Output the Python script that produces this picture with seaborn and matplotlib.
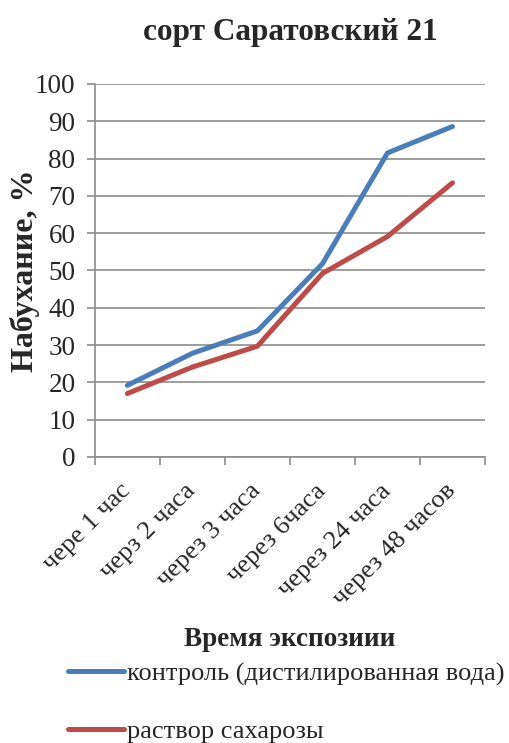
import numpy as np
import pandas as pd
import seaborn as sns
from matplotlib import pyplot as plt

# Data
categories = ['чере 1 час', 'черз 2 часа', 'через 3 часа', 'через 6часа',
              'через 24 часа', 'через 48 часов']
control = [19.2, 27.8, 33.8, 51.8, 81.5, 88.6]
sucrose = [17.0, 24.1, 29.7, 49.2, 59.1, 73.5]
series_names = ['контроль (дистилированная вода)', 'раствор сахарозы']

df = pd.DataFrame({
    'time': categories * 2,
    'value': control + sucrose,
    'series': [series_names[0]] * len(categories) + [series_names[1]] * len(categories),
})

sns.set_style('white')
plt.rcParams['font.family'] = ['Liberation Serif', 'DejaVu Serif']

fig = plt.figure(figsize=(5.1, 7.43), dpi=100)
ax = fig.add_axes([0.186, 0.385, 0.765, 0.502])

palette = {series_names[0]: '#4A7EBB', series_names[1]: '#BE4B48'}
sns.lineplot(data=df, x='time', y='value', hue='series', palette=palette,
             linewidth=3.6, sort=False, ax=ax, legend=False)

ax.set_xlim(-0.5, len(categories) - 0.5)
ax.set_ylim(0, 100)
ax.set_yticks(np.arange(0, 101, 10))
ax.yaxis.grid(True, color='#8c8c8c', linewidth=1.2)
ax.set_axisbelow(True)

# ticks at category boundaries
ax.set_xticks(range(len(categories)))
ax.set_xticklabels(categories, rotation=45, ha='right', va='center',
                   rotation_mode='anchor', fontsize=19)
ax.set_xticks(np.arange(-0.5, len(categories), 1), minor=True)
ax.tick_params(axis='x', which='major', length=0, pad=22)
ax.tick_params(axis='x', which='minor', length=6, color='#8c8c8c', width=1.2, bottom=True)
ax.tick_params(axis='y', length=6, color='#8c8c8c', width=1.2, left=True, labelsize=19.5, pad=8)

for side in ['top', 'right']:
    ax.spines[side].set_visible(False)
for side in ['left', 'bottom']:
    ax.spines[side].set_color('#8c8c8c')
    ax.spines[side].set_linewidth(1.2)

ax.set_ylabel('Набухание, %', fontsize=23, fontweight='bold', labelpad=-4)
ax.set_xlabel('Время экспозиии', fontsize=19.5, fontweight='bold', labelpad=12)
ax.set_title('сорт Саратовский 21', fontsize=22.5, fontweight='bold', pad=32)

handles = [plt.Line2D([], [], color=palette[n], linewidth=3.6) for n in series_names]
fig.legend(handles, series_names, loc='upper left', bbox_to_anchor=(0.113, 0.123),
           frameon=False, fontsize=19, handlelength=2.1, handletextpad=0.12,
           labelspacing=1.28, borderaxespad=0)

fig.savefig('out.png', dpi=100)
